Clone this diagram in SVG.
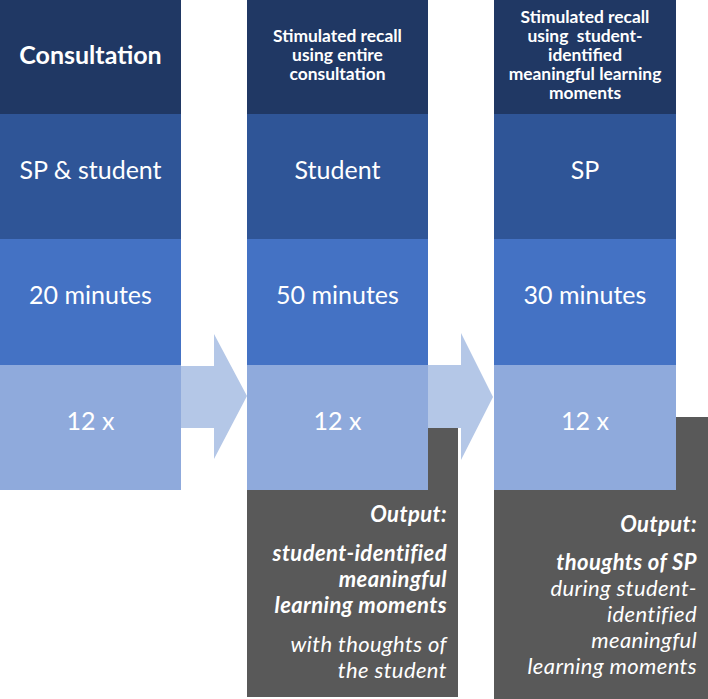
<svg xmlns="http://www.w3.org/2000/svg" width="708" height="699" viewBox="0 0 708 699">
<style>
.r1{fill:#203864}.r2{fill:#2F5597}.r3{fill:#4472C4}.r4{fill:#8FAADC}
.out{fill:#595959}.arr{fill:#B4C7E7}
text{font-family:Lato,"Open Sans","Liberation Sans",sans-serif;fill:#fff;text-anchor:middle}
.big{font-size:25px}.bigb{font-size:25px;font-weight:bold}
.hd{font-size:17.4px;font-weight:bold}
.o{text-anchor:end;font-size:22px;font-style:italic;letter-spacing:0.4px}
.ob{text-anchor:end;font-size:22px;font-style:italic;font-weight:bold;letter-spacing:0.4px}
</style>
<rect width="708" height="699" fill="#fff"/>
<g id="output2"><rect class="out" x="247" y="428" width="211" height="269"/>
<text class="ob" x="447" y="522">Output:</text>
<text class="ob" x="447" y="561">student-identified</text>
<text class="ob" x="447" y="587">meaningful</text>
<text class="ob" x="447" y="613">learning moments</text>
<text class="o" x="447" y="652">with thoughts of</text>
<text class="o" x="447" y="678">the student</text></g>
<g id="output3"><rect class="out" x="494" y="417" width="214" height="282"/>
<text class="ob" x="697" y="532">Output:</text>
<text class="ob" x="697" y="570">thoughts of SP</text>
<text class="o" x="697" y="596">during student-</text>
<text class="o" x="697" y="622">identified</text>
<text class="o" x="697" y="648">meaningful</text>
<text class="o" x="697" y="674">learning moments</text></g>
<g id="c1-title"><rect class="r1" x="0" y="0" width="181" height="114"/><text class="bigb" x="90.5" y="64">Consultation</text></g>
<g id="c1-who"><rect class="r2" x="0" y="114" width="181" height="125"/><text class="big" x="90.5" y="179">SP &amp; student</text></g>
<g id="c1-time"><rect class="r3" x="0" y="239" width="181" height="126"/><text class="big" x="90.5" y="304">20 minutes</text></g>
<g id="c1-count"><rect class="r4" x="0" y="365" width="181" height="125"/><text class="big" x="90.5" y="430">12 x</text></g>
<g id="c2-title"><rect class="r1" x="247" y="0" width="181" height="114"/><text class="hd" x="337.5"><tspan x="337.5" y="42">Stimulated recall</tspan><tspan x="337.5" y="61">using entire</tspan><tspan x="337.5" y="80">consultation</tspan></text></g>
<g id="c2-who"><rect class="r2" x="247" y="114" width="181" height="125"/><text class="big" x="337.5" y="179">Student</text></g>
<g id="c2-time"><rect class="r3" x="247" y="239" width="181" height="126"/><text class="big" x="337.5" y="304">50 minutes</text></g>
<g id="c2-count"><rect class="r4" x="247" y="365" width="181" height="125"/><text class="big" x="337.5" y="430">12 x</text></g>
<g id="c3-title"><rect class="r1" x="494" y="0" width="182" height="114"/><text class="hd" x="585"><tspan x="585" y="23">Stimulated recall</tspan><tspan x="585" y="42" xml:space="preserve">using  student-</tspan><tspan x="585" y="61">identified</tspan><tspan x="585" y="80">meaningful learning</tspan><tspan x="585" y="99">moments</tspan></text></g>
<g id="c3-who"><rect class="r2" x="494" y="114" width="182" height="125"/><text class="big" x="585" y="179">SP</text></g>
<g id="c3-time"><rect class="r3" x="494" y="239" width="182" height="126"/><text class="big" x="585" y="304">30 minutes</text></g>
<g id="c3-count"><rect class="r4" x="494" y="365" width="182" height="125"/><text class="big" x="585" y="430">12 x</text></g>
<g id="connectors">
<polygon class="arr" points="181,366 214,366 214,334 247,396 214,459 214,428 181,428"/>
<polygon class="arr" points="428,365 461,365 461,333 493,397 461,460 461,428 428,428"/>
</g>
</svg>
